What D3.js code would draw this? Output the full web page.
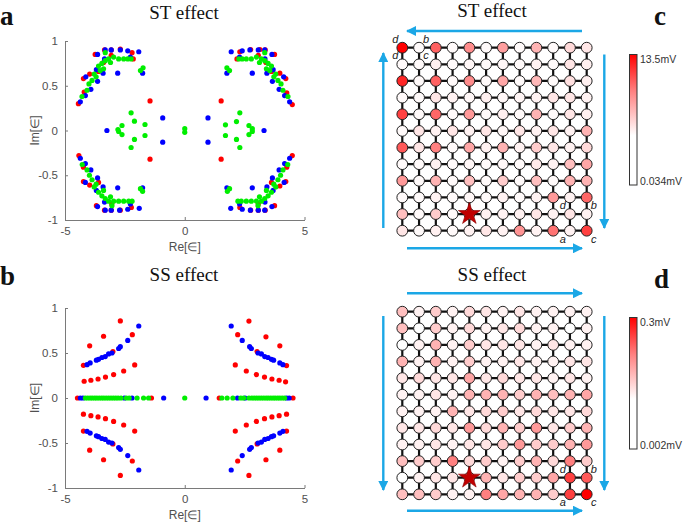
<!DOCTYPE html>
<html><head><meta charset="utf-8">
<script src="https://cdn.jsdelivr.net/npm/d3@7"></script>
<style>body{margin:0;background:#fff}svg{display:block}</style>
</head><body><svg id="fig" width="685" height="523"></svg>
<script>
// ---------------- DATA ----------------
const xTicks = [-5, 0, 5];
const yTicks = [-1, -0.5, 0, 0.5, 1];
const titleTop = "ST effect", titleBottom = "SS effect";
const letters = ["a", "b", "c", "d"];
const cbarTopLabels = ["13.5mV", "0.3mV"];
const cbarBottomLabels = ["0.034mV", "0.002mV"];

// Panel a (ST effect) eigenvalues [Re, Im]
const stRed = [
  [-4.44,0.30],[-4.20,0.43],[-4.23,0.58],[-3.97,0.63],[-3.74,0.85],[-3.35,0.90],[-3.07,0.90],[-2.69,0.91],[-2.20,0.87],[-2.15,0.80],[-3.39,0.76],[-3.60,0.66],[-3.07,0.84],[-1.45,0.33],
  [-4.42,-0.28],[-4.23,-0.41],[-4.23,-0.57],[-3.97,-0.61],[-3.60,-0.58],[-3.69,-0.84],[-3.35,-0.89],[-3.07,-0.89],[-2.69,-0.89],[-2.23,-0.86],[-3.05,-0.82],[-1.45,-0.32],
  [4.49,0.29],[4.26,0.42],[4.22,0.58],[3.97,0.64],[3.75,0.85],[3.36,0.90],[3.14,0.905],[2.75,0.905],[2.30,0.88],[2.18,0.80],[3.39,0.76],[3.62,0.66],[3.07,0.84],[1.52,0.33],
  [4.49,-0.28],[4.26,-0.41],[4.22,-0.57],[3.97,-0.62],[3.62,-0.58],[3.75,-0.84],[3.36,-0.89],[3.07,-0.89],[2.75,-0.89],[2.30,-0.86],[3.07,-0.82],[1.52,-0.32]
];
const stBlue = [
  [-4.36,0.32],[-4.15,0.39],[-3.92,0.46],[-4.13,0.60],[-3.64,0.55],[-3.64,0.85],[-3.32,0.90],[-3.07,0.90],[-2.69,0.90],[-2.38,0.89],[-1.92,0.88],[-2.80,0.64],[-1.76,0.64],[-3.41,0.64],[-3.69,0.68],[-3.35,0.80],[-2.27,0.82],[-0.92,0.14],[-3.25,0.0],
  [-4.36,-0.31],[-4.15,-0.37],[-3.92,-0.44],[-4.15,-0.58],[-3.64,-0.53],[-3.64,-0.85],[-3.32,-0.89],[-3.07,-0.89],[-2.72,-0.89],[-2.38,-0.88],[-1.90,-0.87],[-2.80,-0.64],[-1.76,-0.64],[-3.41,-0.63],[-3.69,-0.67],[-3.35,-0.80],[-2.27,-0.82],[-0.92,-0.13],
  [4.38,0.32],[4.17,0.39],[3.94,0.46],[4.13,0.60],[3.66,0.55],[3.64,0.85],[3.34,0.90],[3.07,0.90],[2.72,0.90],[2.40,0.89],[1.94,0.88],[2.82,0.64],[1.76,0.64],[3.43,0.64],[3.69,0.68],[3.35,0.80],[2.29,0.82],[0.97,0.14],[3.31,0.0],
  [4.38,-0.31],[4.17,-0.37],[3.94,-0.44],[4.15,-0.58],[3.66,-0.53],[3.64,-0.85],[3.34,-0.89],[3.07,-0.89],[2.74,-0.89],[2.40,-0.88],[1.92,-0.87],[2.82,-0.64],[1.76,-0.64],[3.43,-0.63],[3.69,-0.67],[3.35,-0.80],[2.29,-0.82],[0.97,-0.13]
];
const stGreen = [
  [-4.29,0.38],[-4.08,0.45],[-4.00,0.52],[-3.87,0.56],[-3.78,0.63],[-3.70,0.60],[-3.60,0.72],[-3.46,0.75],[-3.32,0.78],[-3.18,0.80],[-3.10,0.76],[-2.97,0.82],[-2.76,0.80],[-2.55,0.80],[-2.38,0.80],[-2.24,0.80],[-3.39,0.69],[-3.53,0.67],[-3.32,0.87],[-1.85,0.67],[-1.74,0.70],
  [-2.24,0.198],[-2.10,0.104],[-1.66,0.067],[-2.62,0.056],[-2.79,0.011],[-2.76,-0.011],[-2.62,-0.045],[-1.66,-0.056],[-2.10,-0.10],[-2.24,-0.19],
  [-4.28,-0.38],[-4.08,-0.44],[-3.98,-0.50],[-3.87,-0.55],[-3.78,-0.63],[-3.70,-0.60],[-3.60,-0.69],[-3.46,-0.73],[-3.32,-0.76],[-3.18,-0.79],[-3.10,-0.74],[-2.97,-0.79],[-2.76,-0.79],[-2.55,-0.79],[-2.34,-0.79],[-2.20,-0.79],[-3.04,-0.84],[-3.39,-0.67],[-1.85,-0.65],[-1.76,-0.68],
  [0.0,0.02],[0.0,-0.02],
  [4.31,0.38],[4.10,0.45],[4.02,0.52],[3.89,0.56],[3.80,0.63],[3.72,0.60],[3.62,0.72],[3.48,0.75],[3.34,0.78],[3.20,0.80],[3.12,0.76],[2.99,0.82],[2.78,0.80],[2.57,0.80],[2.40,0.80],[2.26,0.80],[3.41,0.69],[3.55,0.67],[3.34,0.87],[1.87,0.67],[1.76,0.70],
  [2.30,0.198],[2.16,0.10],[1.70,0.063],[2.68,0.056],[2.82,0.02],[2.82,-0.01],[2.68,-0.045],[1.70,-0.056],[2.16,-0.10],[2.30,-0.19],
  [4.30,-0.38],[4.10,-0.44],[4.00,-0.50],[3.89,-0.55],[3.80,-0.63],[3.72,-0.60],[3.62,-0.69],[3.48,-0.73],[3.34,-0.76],[3.20,-0.79],[3.12,-0.74],[2.99,-0.79],[2.78,-0.79],[2.57,-0.79],[2.36,-0.79],[2.22,-0.79],[3.06,-0.84],[3.41,-0.67],[1.87,-0.65],[1.78,-0.68]
];

// Panel b (SS effect) eigenvalues [Re, Im]
const ssRed = [
  [-2.69,0.856],[-3.39,0.686],[-3.97,0.58],[-4.23,0.363],[-4.20,0.186],[-3.92,0.197],[-3.62,0.211],[-3.31,0.233],[-2.97,0.26],[-2.55,0.30],[-2.09,0.367],[-2.19,0.704],[-3.00,0.516],
  [-4.23,-0.18],[-3.92,-0.196],[-3.62,-0.21],[-3.31,-0.23],[-2.97,-0.26],[-2.55,-0.30],[-2.09,-0.367],[-4.23,-0.367],[-3.97,-0.58],[-3.39,-0.686],[-2.69,-0.86],[-2.19,-0.70],[-3.00,-0.51],
  [2.68,0.855],[3.39,0.68],[3.97,0.58],[4.25,0.36],[4.21,0.18],[3.94,0.197],[3.64,0.211],[3.33,0.233],[2.99,0.26],[2.57,0.30],[2.11,0.367],[2.21,0.704],[3.02,0.516],
  [4.25,-0.18],[3.94,-0.196],[3.64,-0.21],[3.33,-0.23],[2.99,-0.26],[2.57,-0.30],[2.11,-0.367],[4.25,-0.367],[3.97,-0.58],[3.39,-0.686],[2.68,-0.86],[2.21,-0.70],[3.02,-0.51],
  [-4.48,0],[-1.39,0],[1.44,0],[4.52,0]
];
const ssBlue = [
  [-1.92,0.80],[-2.38,0.64],[-2.69,0.57],[-2.76,0.55],[-3.04,0.50],[-3.18,0.49],[-3.32,0.46],[-3.46,0.45],[-3.60,0.43],[-3.69,0.42],[-3.95,0.39],[-4.08,0.37],
  [-1.92,-0.80],[-2.38,-0.64],[-2.69,-0.57],[-2.76,-0.55],[-3.04,-0.50],[-3.18,-0.49],[-3.32,-0.46],[-3.46,-0.45],[-3.60,-0.43],[-3.69,-0.42],[-3.95,-0.39],[-4.08,-0.37],
  [1.94,0.80],[2.40,0.64],[2.71,0.57],[2.78,0.55],[3.06,0.50],[3.20,0.49],[3.34,0.46],[3.48,0.45],[3.62,0.43],[3.71,0.42],[3.97,0.39],[4.10,0.37],
  [1.94,-0.80],[2.40,-0.64],[2.71,-0.57],[2.78,-0.55],[3.06,-0.50],[3.20,-0.49],[3.34,-0.46],[3.48,-0.45],[3.62,-0.43],[3.71,-0.42],[3.97,-0.39],[4.10,-0.37],
  [-4.36,0],[-4.25,0],[-2.52,0],[-2.20,0],[-0.88,0],[0.89,0],[2.20,0],[2.52,0],[4.25,0],[4.36,0]
];
const ssGreen = [
  [-4.15,0],[-4.05,0],[-3.95,0],[-3.86,0],[-3.76,0],[-3.67,0],[-3.57,0],[-3.47,0],[-3.38,0],[-3.28,0],[-3.18,0],[-3.08,0],[-2.98,0],[-2.88,0],[-2.78,0],[-2.66,0],[-2.44,0],[-2.32,0],[-1.99,0],[-1.72,0],[-1.51,0],
  [0,0],
  [1.55,0],[1.77,0],[2.01,0],[2.34,0],[2.46,0],[2.68,0],[2.80,0],[2.90,0],[3.00,0],[3.10,0],[3.20,0],[3.30,0],[3.40,0],[3.49,0],[3.59,0],[3.69,0],[3.78,0],[3.88,0],[3.97,0],[4.07,0],[4.17,0]
];

// Panel c (ST) node intensity, fraction of max, rows top->bottom, cols left->right
const stNodes = [
  [1.00,0.02,0.62,0.02,0.45,0.02,0.38,0.02,0.30,0.02,0.15,0.10],
  [0.02,0.02,0.06,0.02,0.03,0.02,0.03,0.02,0.05,0.02,0.10,0.06],
  [0.85,0.02,0.62,0.02,0.45,0.02,0.35,0.02,0.28,0.02,0.12,0.06],
  [0.02,0.02,0.10,0.05,0.03,0.06,0.03,0.04,0.05,0.10,0.10,0.05],
  [0.75,0.02,0.60,0.02,0.40,0.02,0.06,0.02,0.30,0.02,0.10,0.06],
  [0.02,0.10,0.05,0.10,0.05,0.10,0.03,0.10,0.05,0.10,0.05,0.30],
  [0.65,0.10,0.50,0.02,0.35,0.05,0.30,0.05,0.20,0.10,0.05,0.15],
  [0.02,0.02,0.05,0.02,0.03,0.02,0.03,0.02,0.08,0.05,0.25,0.35],
  [0.40,0.02,0.30,0.02,0.25,0.02,0.20,0.02,0.25,0.02,0.30,0.30],
  [0.02,0.02,0.05,0.02,0.03,0.02,0.05,0.02,0.05,0.40,0.05,0.60],
  [0.25,0.02,0.20,0.02,0.00,0.05,0.05,0.05,0.10,0.05,0.10,0.05],
  [0.10,0.02,0.06,0.02,0.05,0.10,0.05,0.42,0.05,0.55,0.05,0.75]
];
// Panel d (SS)
const ssNodes = [
  [0.25,0.05,0.20,0.05,0.15,0.10,0.05,0.10,0.05,0.05,0.05,0.05],
  [0.25,0.00,0.20,0.05,0.15,0.05,0.10,0.15,0.05,0.05,0.00,0.05],
  [0.00,0.05,0.30,0.05,0.20,0.10,0.10,0.10,0.05,0.10,0.05,0.05],
  [0.30,0.05,0.30,0.05,0.20,0.05,0.05,0.10,0.05,0.05,0.10,0.10],
  [0.10,0.15,0.10,0.10,0.35,0.10,0.15,0.10,0.10,0.05,0.10,0.05],
  [0.05,0.05,0.10,0.05,0.30,0.30,0.30,0.20,0.30,0.25,0.30,0.35],
  [0.05,0.05,0.05,0.30,0.10,0.15,0.20,0.10,0.15,0.10,0.10,0.15],
  [0.10,0.10,0.15,0.10,0.40,0.15,0.30,0.20,0.40,0.10,0.20,0.30],
  [0.05,0.05,0.10,0.05,0.10,0.10,0.20,0.40,0.20,0.20,0.30,0.40],
  [0.25,0.20,0.20,0.50,0.15,0.20,0.05,0.20,0.30,0.15,0.50,0.20],
  [0.00,0.05,0.10,0.10,0.00,0.30,0.10,0.20,0.20,0.35,0.75,0.65],
  [0.25,0.25,0.20,0.05,0.05,0.50,0.35,0.30,0.30,0.20,0.75,1.00]
];
const starNode = [10, 4]; // [row, col]
const cornerLabelsC = [["d",0,0,"tl"],["b",0,1,"tr"],["d",1,0,"tl"],["c",1,1,"tr"],["d",10,10,"tl"],["b",10,11,"tr"],["a",11,10,"bl"],["c",11,11,"br"]];
const cornerLabelsD = [["d",10,10,"tl"],["b",10,11,"tr"],["a",11,10,"bl"],["c",11,11,"br"]];

// ---------------- DRAW ----------------
const svg = d3.select("#fig");
const serif = "'Liberation Serif','Times New Roman',serif";
const sans = "'Liberation Sans',Arial,sans-serif";
const axisGray = "#7a7a7a", labelGray = "#505050";

function scatterPanel(yTop, yBot, red, blue, green) {
  const x = d3.scaleLinear().domain([-5, 5]).range([65, 304.5]);
  const y = d3.scaleLinear().domain([-1, 1]).range([yBot, yTop]);
  const g = svg.append("g");
  const xa = g.append("g").attr("transform", `translate(0,${yBot})`)
    .call(d3.axisBottom(x).tickValues(xTicks).tickSize(-3).tickSizeOuter(0).tickPadding(7).tickFormat(d => String(d)));
  const ya = g.append("g").attr("transform", `translate(65,0)`)
    .call(d3.axisLeft(y).tickValues(yTicks).tickSize(-3).tickSizeOuter(0).tickPadding(7).tickFormat(d => String(d)));
  [xa, ya].forEach(a => {
    a.select(".domain").attr("stroke", axisGray).attr("stroke-width", 1);
    a.selectAll(".tick line").attr("stroke", axisGray);
    a.selectAll(".tick text").attr("fill", labelGray).attr("font-family", sans).attr("font-size", 11.5);
  });
  g.append("text").attr("x", x(0)).attr("y", yBot + 31).attr("text-anchor", "middle")
    .attr("font-family", sans).attr("font-size", 12).attr("fill", labelGray).text("Re[∈]");
  g.append("text").attr("transform", `translate(39,${y(0)}) rotate(-90)`).attr("text-anchor", "middle")
    .attr("font-family", sans).attr("font-size", 12).attr("fill", labelGray).text("Im[∈]");
  const dots = [[red, "#ff0000"], [blue, "#0000ff"], [green, "#00ee00"]];
  dots.forEach(([data, col]) => {
    g.append("g").selectAll("circle").data(data).join("circle")
      .attr("cx", d => x(d[0])).attr("cy", d => y(d[1])).attr("r", 2.6).attr("fill", col);
  });
}

scatterPanel(41, 220, stRed, stBlue, stGreen);
scatterPanel(308, 488, ssRed, ssBlue, ssGreen);

// titles & letters
[[184, 19, titleTop], [184, 281, titleBottom], [492, 17, titleTop], [492, 281, titleBottom]].forEach(([tx, ty, t]) => {
  svg.append("text").attr("x", tx).attr("y", ty).attr("text-anchor", "middle")
    .attr("font-family", serif).attr("font-size", 19).attr("fill", "#111").text(t);
});
[[0, 25, letters[0]], [0, 285, letters[1]], [654, 25, letters[2]], [654, 288, letters[3]]].forEach(([tx, ty, t]) => {
  svg.append("text").attr("x", tx).attr("y", ty).attr("font-family", serif).attr("font-weight", "bold")
    .attr("font-size", 27).attr("fill", "#111").text(t);
});

// color scale
const nodeColor = d3.scaleLinear().domain([0, 1]).range(["#ffffff", "#ff0000"]).interpolate(d3.interpolateRgb);
const defs = svg.append("defs");
const grad = defs.append("linearGradient").attr("id", "cb").attr("x1", 0).attr("y1", 1).attr("x2", 0).attr("y2", 0);
[[0, 0], [0.38, 0], [0.55, 0.25], [0.72, 0.5], [0.86, 0.75], [1, 1]].forEach(([o, t]) => {
  grad.append("stop").attr("offset", o).attr("stop-color", nodeColor(t));
});
defs.append("marker").attr("id", "ah").attr("viewBox", "0 0 10 10").attr("refX", 9).attr("refY", 5)
  .attr("markerUnits", "userSpaceOnUse").attr("markerWidth", 11).attr("markerHeight", 10).attr("orient", "auto")
  .append("path").attr("d", "M0,0L10,5L0,10Z").attr("fill", "#1ba7e6");

function latticePanel(yTop, yBot, nodes, labels, arrows, cbY0, cbY1, topLab, botLab) {
  const cols = d3.range(12), rows = d3.range(12);
  const x = d3.scaleLinear().domain([0, 11]).range([402.3, 586.7]);
  const y = d3.scaleLinear().domain([0, 11]).range([yTop, yBot]);
  const g = svg.append("g");
  // bonds
  rows.forEach(r => g.append("line").attr("x1", x(0)).attr("x2", x(11)).attr("y1", y(r)).attr("y2", y(r))
    .attr("stroke", "#111").attr("stroke-width", 2.2));
  cols.forEach(c => g.append("line").attr("x1", x(c)).attr("x2", x(c)).attr("y1", y(0)).attr("y2", y(11))
    .attr("stroke", "#111").attr("stroke-width", 2.2));
  const cells = [];
  nodes.forEach((row, r) => row.forEach((v, c) => cells.push({ r, c, v })));
  g.selectAll("circle.n").data(cells).join("circle").attr("class", "n")
    .attr("cx", d => x(d.c)).attr("cy", d => y(d.r)).attr("r", 5.4)
    .attr("fill", d => nodeColor(d.v)).attr("stroke", "#222").attr("stroke-width", 1);
  // star
  g.append("path").attr("d", d3.symbol(d3.symbolStar).size(150)())
    .attr("transform", `translate(${x(starNode[1])},${y(starNode[0])})`)
    .attr("fill", "#c00000").attr("stroke", "#8a0000").attr("stroke-width", 0.6);
  // corner labels
  labels.forEach(([t, r, c, pos]) => {
    const dx = pos[1] === "l" ? -7 : 7, dy = pos[0] === "t" ? -5 : 12;
    g.append("text").attr("x", x(c) + dx).attr("y", y(r) + dy).attr("text-anchor", "middle")
      .attr("font-family", sans).attr("font-style", "italic").attr("font-size", 11).attr("fill", "#222").text(t);
  });
  // arrows
  arrows.forEach(([x1, y1, x2, y2]) => {
    g.append("line").attr("x1", x1).attr("y1", y1).attr("x2", x2).attr("y2", y2)
      .attr("stroke", "#1ba7e6").attr("stroke-width", 2.4).attr("marker-end", "url(#ah)");
  });
  // colorbar
  g.append("rect").attr("x", 629.5).attr("y", cbY0).attr("width", 7.5).attr("height", cbY1 - cbY0)
    .attr("fill", "url(#cb)").attr("stroke", "#333").attr("stroke-width", 1);
  g.append("text").attr("x", 640).attr("y", cbY0 + 8).attr("font-family", sans).attr("font-size", 10.5).attr("fill", "#333").text(topLab);
  g.append("text").attr("x", 640).attr("y", cbY1).attr("font-family", sans).attr("font-size", 10.5).attr("fill", "#333").text(botLab);
}

latticePanel(47.7, 230.7, stNodes, cornerLabelsC,
  [[582, 31, 407, 31], [383.3, 228, 383.3, 53], [604.3, 54.5, 604.3, 228], [407, 248.3, 582, 248.3]],
  54.5, 185, cbarTopLabels[0], cbarBottomLabels[0]);
latticePanel(311.7, 494.3, ssNodes, cornerLabelsD,
  [[407, 293.3, 582, 293.3], [383.3, 316, 383.3, 490], [604.3, 316, 604.3, 490], [407, 510.7, 582, 510.7]],
  317.5, 449, cbarTopLabels[1], cbarBottomLabels[1]);
</script></body></html>
